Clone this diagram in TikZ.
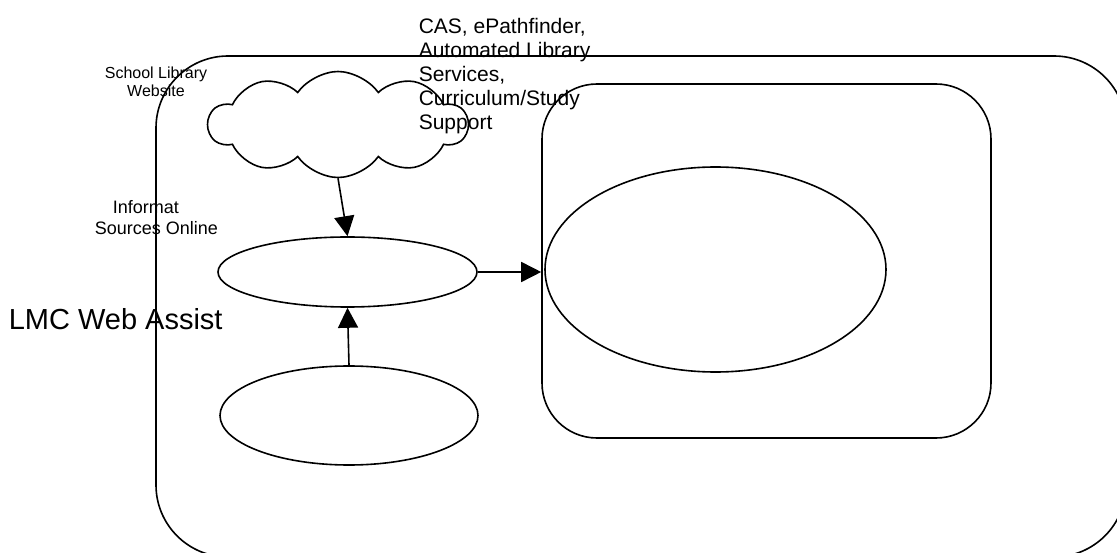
\documentclass[tikz,border=0pt]{standalone}
\usepackage{fontspec}
\setmainfont{Liberation Sans}
\usetikzlibrary{shapes.geometric,shapes.symbols,arrows.meta}

\begin{document}
\begin{tikzpicture}[x=1pt,y=-1pt,line width=1.6pt,
    blob/.style={draw,ellipse,inner sep=0pt},
    panel/.style={draw,rectangle,inner sep=0pt},
    lbl/.style={inner sep=0pt,font=#1},
    arr/.style={-{Triangle[length=20pt,width=20pt]}}]
  \useasboundingbox (0,0) rectangle (1117,553);
  \clip (0,0) rectangle (1117,553);
  % outer and inner boxes
  \node[panel,rounded corners=72pt,minimum width=970pt,minimum height=501pt] (lmcbox) at (641,306.5) {};
  \node[panel,rounded corners=55pt,minimum width=449pt,minimum height=354pt] (innerbox) at (766.5,261) {};
  \node[blob,minimum width=341pt,minimum height=205pt] (bigeli) at (715.5,269.5) {};
  % left column
  \node[draw,cloud,cloud puffs=10,cloud puff arc=110,aspect=2.3,inner sep=0pt,
        minimum width=259pt,minimum height=106pt] (cloudweb) at (338,124.5) {};
  \node[blob,minimum width=259pt,minimum height=70pt] (infoeli) at (347.5,272) {};
  \node[blob,minimum width=258pt,minimum height=99pt] (botheli) at (349,415.5) {};
  % labels
  \node[lbl=\fontsize{21}{24}\selectfont,align=left,anchor=north west] (caslbl) at (418,17.7)
    {CAS, ePathfinder,\\Automated Library\\Services,\\Curriculum/Study\\Support};
  \node[lbl=\fontsize{16}{18}\selectfont,align=center,anchor=north] (weblbl) at (156,66.3)
    {School Library\\Website};
  \node[lbl=\fontsize{18}{21}\selectfont,align=left,anchor=north west] (srclbl) at (94,200)
    {\hspace*{18pt}Informat\\Sources Online};
  \node[lbl=\fontsize{29}{34}\selectfont,anchor=base west] (lmclbl) at (8,330) {LMC Web Assist};
  % arrows
  \draw[arr] (cloudweb.south) -- (infoeli.north);
  \draw[arr] (botheli.north) -- (infoeli.south);
  \draw[arr] (infoeli.east) -- (infoeli.east -| innerbox.west);
\end{tikzpicture}
\end{document}
